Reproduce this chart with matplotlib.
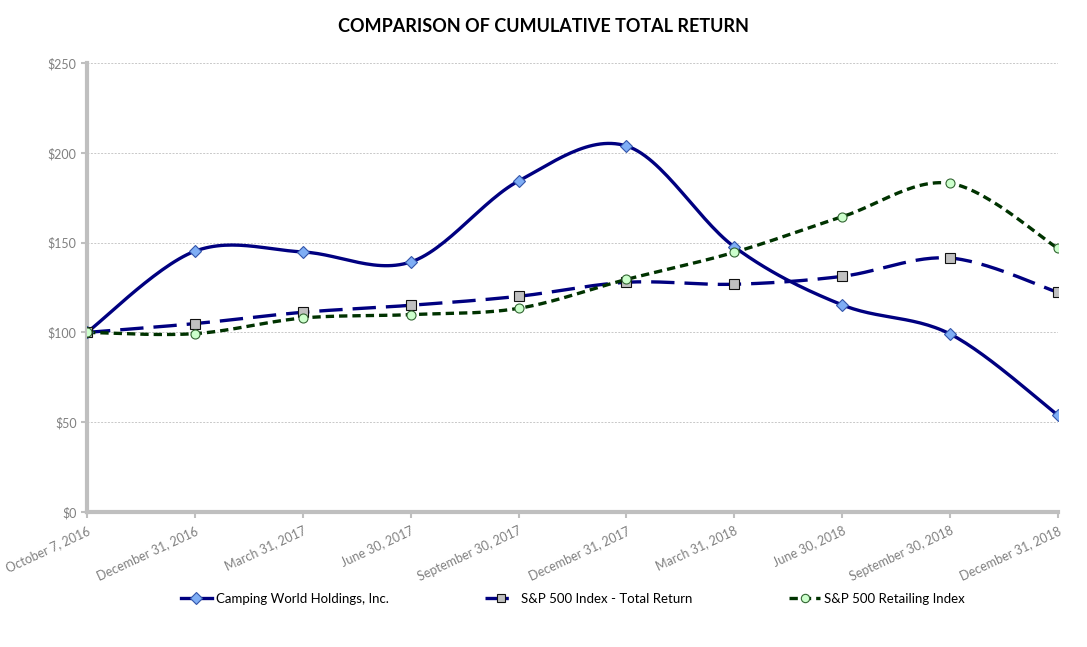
import numpy as np
import matplotlib.pyplot as plt
from matplotlib.lines import Line2D

plt.rcParams['font.family'] = ['Lato', 'DejaVu Sans']

dates = ['October 7, 2016', 'December 31, 2016', 'March 31, 2017', 'June 30, 2017',
         'September 30, 2017', 'December 31, 2017', 'March 31, 2018', 'June 30, 2018',
         'September 30, 2018', 'December 31, 2018']
camping = [100, 145.2, 144.8, 139.2, 184.3, 203.8, 147.6, 115.3, 99.1, 53.9]
sp500 = [100, 104.9, 111.2, 115.1, 120.1, 127.9, 126.8, 131.2, 141.4, 122.3]
retail = [100, 99.3, 108.0, 109.9, 113.4, 129.5, 144.6, 164.4, 183.0, 146.8]
yticks = [0, 50, 100, 150, 200, 250]


def smooth(y, n=30):
    # Excel-style smoothed line (Catmull-Rom bezier)
    y = np.asarray(y, float)
    x = np.arange(len(y), dtype=float)
    px = np.concatenate([[x[0]], x, [x[-1]]])
    py = np.concatenate([[y[0]], y, [y[-1]]])
    xs, ys = [], []
    t = np.linspace(0, 1, n)
    for i in range(len(y) - 1):
        p0x, p1x, p2x, p3x = px[i], px[i + 1], px[i + 2], px[i + 3]
        p0y, p1y, p2y, p3y = py[i], py[i + 1], py[i + 2], py[i + 3]
        c1x, c1y = p1x + (p2x - p0x) / 6, p1y + (p2y - p0y) / 6
        c2x, c2y = p2x - (p3x - p1x) / 6, p2y - (p3y - p1y) / 6
        bx = (1 - t) ** 3 * p1x + 3 * (1 - t) ** 2 * t * c1x + 3 * (1 - t) * t ** 2 * c2x + t ** 3 * p2x
        by = (1 - t) ** 3 * p1y + 3 * (1 - t) ** 2 * t * c1y + 3 * (1 - t) * t ** 2 * c2y + t ** 3 * p2y
        xs.extend(bx)
        ys.extend(by)
    return np.array(xs), np.array(ys)


fig = plt.figure(figsize=(10.87, 6.47), dpi=100)
ax = fig.add_axes([87 / 1087, 135 / 647, 971 / 1087, 449 / 647])

x = np.arange(len(dates))
series = [
    (camping, '#000080', '-', 'D', '#7FAEF5', '#3355AA', 'Camping World Holdings, Inc.'),
    (sp500, '#000080', (0, (7, 3)), 's', '#C0C0C0', '#111111', 'S&P 500 Index - Total Return'),
    (retail, '#003300', (0, (2.5, 1.5)), 'o', '#CCFFCC', '#336633', 'S&P 500 Retailing Index'),
]
handles = []
for vals, col, ls, mk, mfc, mec, lab in series:
    sx, sy = smooth(vals)
    ax.plot(sx, sy, color=col, lw=2.4, ls=ls, zorder=3)
    ax.plot(x, vals, ls='none', marker=mk, ms=6.5 if mk != 'D' else 6, mfc=mfc, mec=mec,
            mew=0.8, zorder=4)
    handles.append(Line2D([0], [0], color=col, lw=2.4, ls=ls, marker=mk, ms=6, mfc=mfc,
                          mec=mec, mew=0.8))

ax.set_xlim(0, len(dates) - 1)
ax.set_ylim(0, 250)
ax.set_yticks(yticks)
ax.set_yticklabels(['$' + str(v) for v in yticks], color='#808080', fontsize=9)
ax.set_xticks(x)
ax.set_xticklabels(dates, rotation=25, ha='right', va='top', rotation_mode='anchor',
                   color='#808080', fontsize=9)
ax.tick_params(axis='both', colors='#BFBFBF', length=4, width=1.5, labelcolor='#808080')
ax.tick_params(axis='x', pad=5)
ax.grid(axis='y', color='#C8C8C8', ls=(0, (2, 1.5)), lw=0.7)
ax.set_axisbelow(True)
for s in ['top', 'right']:
    ax.spines[s].set_visible(False)
for s in ['left', 'bottom']:
    ax.spines[s].set_color('#BFBFBF')
    ax.spines[s].set_linewidth(3)

fig.text(0.5, 1 - 26 / 647, 'COMPARISON OF CUMULATIVE TOTAL RETURN', ha='center', va='center',
         fontsize=13, fontweight='bold')
fig.legend(handles, [s[6] for s in series], loc='center', bbox_to_anchor=(0.527, 1 - 599 / 647),
           ncol=3, frameon=False, fontsize=9.5, handlelength=2.4, columnspacing=7.3,
           handletextpad=0.3)

fig.savefig('out.png', dpi=100)
